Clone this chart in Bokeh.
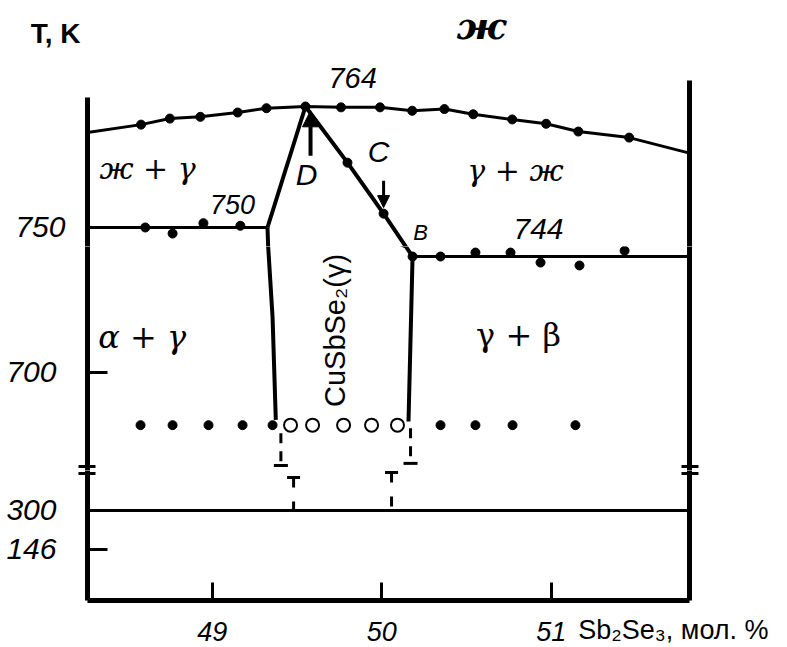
import math
from bokeh.plotting import figure
from bokeh.layouts import column
from bokeh.models import Range1d, LinearAxis, FixedTicker, Label, Arrow, NormalHead, Span
from bokeh.embed import file_html
from bokeh.resources import INLINE

# ---------------------------------------------------------------- data
# composition axis, mol.% Sb2Se3
X_MIN, X_MAX = 48.264, 51.816
X_TICKS = [49, 50, 51]

# temperature axis (K), drawn in three stacked pieces
T_SPLIT = 747.8          # joint between melt panel and solid panel
T_TOP = 769.32
T_MID_MIN = 662.8
T_LOW_MIN, T_LOW_MAX = -55.4, 457.9
Y_TICKS_TOP = [750]
Y_TICKS_MID = [700]
Y_TICKS_LOW = [146, 300]
T_ROOM = 300
BREAK_MID, BREAK_LOW = 664.3, 446.1   # "=" marks of the broken axis

# liquidus: curve from edge to edge, measured points in between
LIQ_X = [48.264, 48.58, 48.75, 48.93, 49.15, 49.32, 49.55, 49.76, 49.99,
         50.18, 50.37, 50.54, 50.77, 50.97, 51.16, 51.46, 51.816]
LIQ_T = [761.0, 761.9, 762.6, 762.8, 763.3, 763.8, 764.0, 763.9, 763.9,
         763.5, 763.7, 763.1, 762.5, 762.0, 761.1, 760.4, 758.6]

# horizontal at 750 K (Cu-rich side)
H750_T = 750
H750_X = [48.264, 49.326]
H750_DOT_X = [48.605, 48.766, 48.948, 49.166]
H750_DOT_T = [750.0, 749.3, 750.5, 750.2]

# horizontal at 744 K (Sb2Se3-rich side)
H744_T = 744
H744_X = [50.182, 51.816]
H744_DOT_X = [50.347, 50.553, 50.760, 50.937, 51.167, 51.433]
H744_DOT_T = [744.0, 745.5, 745.5, 741.7, 740.6, 746.2]

# boundaries of the gamma (CuSbSe2) field
D_X = [49.326, 49.55]
D_T = [750.0, 764.0]
SOL_L_X = [49.326, 49.330, 49.356, 49.375]
SOL_L_T = [750.0, 747.8, 720.9, 682.0]
BC_X = [49.55, 49.798, 50.011, 50.142, 50.182]
BC_T = [764.0, 757.5, 751.6, 747.8, 744.0]
BC_DOT_X = [49.798, 50.011]
BC_DOT_T = [757.5, 751.6]
SOL_R_X = [50.182, 50.158]
SOL_R_T = [744.0, 681.4]

# annealed alloys: two-phase (filled) and single-phase (open)
T_ANNEAL = 680
X_TWO_PHASE = [48.577, 48.766, 48.978, 49.179, 49.356, 50.347, 50.553, 50.772, 51.143]
X_ONE_PHASE = [49.462, 49.592, 49.775, 49.940, 50.093]

# homogeneity limits: at the annealing level and at room temperature
HOM_HI_X = [49.405, 50.170]
HOM_HI_TOP = [676.9, 678.8]
HOM_HI_CAP = [664.7, 665.5]
HOM_LO_X = [49.480, 50.058]
HOM_LO_CAP = [430.3, 450.1]

SANS = "Liberation Sans"
SERIF = "DejaVu Serif"
INK = "black"

xr = Range1d(X_MIN, X_MAX)
# text strips above and below the diagram span the whole width on the same scale
PX_PER_UNIT = 602 / (X_MAX - X_MIN)
xr_full = Range1d(X_MIN - 87 / PX_PER_UNIT, X_MAX + 98 / PX_PER_UNIT)


def style_axis(ax, ticks, minor=()):
    ax.ticker = FixedTicker(ticks=list(ticks), minor_ticks=list(minor))
    ax.axis_line_width = 5
    ax.axis_line_color = INK
    ax.major_tick_in = 20
    ax.major_tick_out = 0
    ax.minor_tick_in = 8
    ax.minor_tick_out = 9
    ax.major_tick_line_width = 3
    ax.minor_tick_line_width = 3
    ax.major_tick_line_color = INK
    ax.minor_tick_line_color = INK
    ax.major_label_text_font = SANS
    ax.major_label_text_font_size = "30px"
    ax.major_label_text_font_style = "italic"
    ax.major_label_text_color = INK


def panel(height, y0, y1, ticks, minor=(), bottom=0, with_x=False):
    p = figure(width=787, height=height, x_range=xr, y_range=Range1d(y0, y1),
               output_backend="svg", toolbar_location=None,
               x_axis_location="below" if with_x else None,
               min_border_left=87, min_border_right=98,
               min_border_top=0, min_border_bottom=bottom,
               outline_line_color=None, background_fill_color="white",
               border_fill_color="white")
    p.grid.visible = False
    style_axis(p.yaxis[0], ticks, minor)
    p.yaxis[0].major_label_standoff = 22
    right = LinearAxis()
    style_axis(right, [], minor)
    right.major_label_standoff = 0
    p.add_layout(right, "right")
    return p


def strip(height):
    p = figure(width=787, height=height, x_range=xr_full, y_range=Range1d(0, height),
               output_backend="svg", toolbar_location=None,
               x_axis_location=None, y_axis_location=None,
               min_border=0, frame_align=False, outline_line_color=None,
               background_fill_color="white", border_fill_color="white")
    p.grid.visible = False
    return p


def note(p, x, y, text, size, style="normal", font=SANS, align="center",
         baseline="middle", angle=0.0):
    p.add_layout(Label(x=x, y=y, text=text, text_font=font,
                       text_font_size=f"{size}px", text_font_style=style,
                       text_align=align, text_baseline=baseline, angle=angle,
                       text_color=INK))


def dots(p, xs, ts):
    p.scatter(xs, ts, size=9, color=INK)


# ---------------------------------------------------------------- header
head = strip(60)
note(head, 48.076, 27, "T, K", 28, style="bold")
note(head, 50.588, 35, "ж", 38, style="bold italic", font=SERIF)

# ---------------------------------------------------------------- melt panel
top = panel(186, T_SPLIT, T_TOP, Y_TICKS_TOP)
top.yaxis[0].bounds = (T_SPLIT, 765.0)
top.yaxis[1].bounds = (T_SPLIT, 767.0)

top.line(LIQ_X, LIQ_T, line_width=3, color=INK)
dots(top, LIQ_X[1:-1], LIQ_T[1:-1])
top.line(H750_X, [H750_T, H750_T], line_width=3, color=INK)
dots(top, H750_DOT_X, H750_DOT_T)
top.line(D_X, D_T, line_width=4, color=INK)
top.line(SOL_L_X, SOL_L_T, line_width=4, color=INK)
top.line(BC_X, BC_T, line_width=4, color=INK)
dots(top, BC_DOT_X, BC_DOT_T)

top.add_layout(Arrow(x_start=49.58, y_start=758.3, x_end=49.58, y_end=763.5,
                     line_width=4, line_color=INK,
                     end=NormalHead(size=16, fill_color=INK, line_color=INK)))
top.add_layout(Arrow(x_start=50.011, y_start=755.4, x_end=50.011, y_end=752.3,
                     line_width=3, line_color=INK,
                     end=NormalHead(size=12, fill_color=INK, line_color=INK)))

note(top, 49.828, 767.24, "764", 29, style="italic")
note(top, 48.618, 756.83, "ж + γ", 30, style="italic", font=SERIF)
note(top, 49.556, 756.13, "D", 30, style="italic")
note(top, 49.981, 758.79, "C", 30, style="italic")
note(top, 49.120, 752.66, "750", 27, style="italic")
note(top, 50.789, 756.59, "γ + ж", 30, style="italic", font=SERIF)
note(top, 50.229, 749.42, "B", 22, style="italic")
note(top, 50.925, 749.88, "744", 30, style="italic")

# ---------------------------------------------------------------- solid panel
mid = panel(224, T_MID_MIN, T_SPLIT, Y_TICKS_MID, minor=[BREAK_MID])

mid.line(SOL_L_X, SOL_L_T, line_width=4, color=INK)
mid.line(BC_X, BC_T, line_width=4, color=INK)
mid.line(SOL_R_X, SOL_R_T, line_width=4, color=INK)
mid.line(H744_X, [H744_T, H744_T], line_width=3, color=INK)
dots(mid, H744_DOT_X, H744_DOT_T)
dots(mid, [SOL_R_X[0]], [SOL_R_T[0]])

dots(mid, X_TWO_PHASE, [T_ANNEAL] * len(X_TWO_PHASE))
mid.scatter(X_ONE_PHASE, [T_ANNEAL] * len(X_ONE_PHASE), size=13,
            marker="circle", fill_color="white", line_color=INK, line_width=2)

for x, t0, t1 in zip(HOM_HI_X, HOM_HI_TOP, HOM_HI_CAP):
    mid.line([x, x], [t0, t1], line_width=3, color=INK, line_dash="10 8")
mid.scatter(HOM_HI_X, HOM_HI_CAP, marker="dash", size=14, line_width=3, color=INK)

note(mid, 49.727, 715.93, "CuSbSe₂(γ)", 29, angle=math.pi / 2)
note(mid, 48.647, 713.3, "α  +  γ", 32, font=SERIF, style="italic")
note(mid, 50.807, 714.4, "γ + β", 32, font=SERIF)

# ---------------------------------------------------------------- low panel
low = panel(133, T_LOW_MIN, T_LOW_MAX, Y_TICKS_LOW, minor=[BREAK_LOW],
            bottom=3, with_x=True)
# composition ticks on the bottom edge; their numbers sit in the strip below
style_axis(low.xaxis[0], [], X_TICKS)
low.xaxis[0].minor_tick_in = 18
low.xaxis[0].minor_tick_out = 0
low.xaxis[0].major_label_standoff = 0

low.add_layout(Span(location=T_ROOM, dimension="width", line_width=3, line_color=INK))
for x, t in zip(HOM_LO_X, HOM_LO_CAP):
    low.line([x, x], [t, T_ROOM], line_width=3, color=INK, line_dash="10 14")
low.scatter(HOM_LO_X, HOM_LO_CAP, marker="dash", size=13, line_width=3, color=INK)

# ---------------------------------------------------------------- footer
foot = strip(44)
for t in X_TICKS:
    note(foot, t, 16, str(t), 27, style="italic")
note(foot, 51.160, 18, "Sb₂Se₃, мол. %", 27, align="left")

layout = column(head, top, mid, low, foot, spacing=0)
open("out.html", "w").write(file_html(layout, INLINE))
